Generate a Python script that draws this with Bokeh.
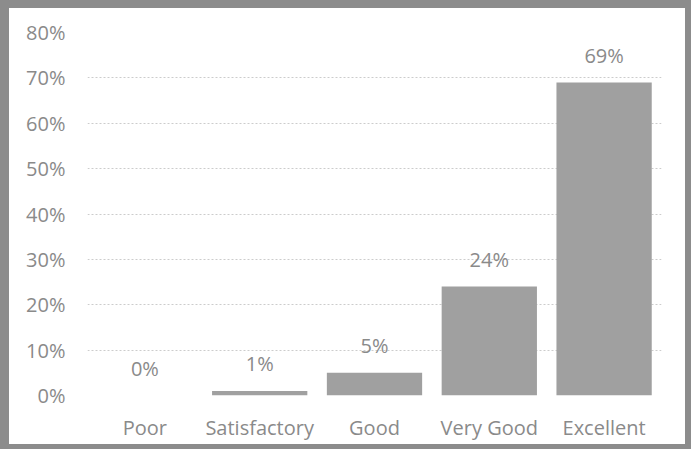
from bokeh.plotting import figure
from bokeh.models import ColumnDataSource, FactorRange, FixedTicker, Range1d
from bokeh.core.properties import value
from bokeh.embed import file_html
from bokeh.resources import INLINE

categories = ["Poor", "Satisfactory", "Good", "Very Good", "Excellent"]
percent = [0, 1, 5, 24, 69]
bar_labels = ["0%", "1%", "5%", "24%", "69%"]
y_ticks = [0, 10, 20, 30, 40, 50, 60, 70, 80]
y_tick_labels = ["0%", "10%", "20%", "30%", "40%", "50%", "60%", "70%", "80%"]

FONT = "Open Sans"
TEXT_COLOR = "#8a8a8a"
BORDER = "#8c8c8c"

source = ColumnDataSource(dict(cat=categories, val=percent, lab=bar_labels))

p = figure(
    width=691, height=449,
    x_range=FactorRange(*categories, range_padding=0),
    y_range=Range1d(0, 80),
    output_backend="svg", toolbar_location=None,
    min_border_left=87, min_border_right=30,
    min_border_top=32, min_border_bottom=54,
)
# scanned-frame look: transparent canvas border over an inset CSS shadow
p.border_fill_color = None
p.background_fill_color = "white"
p.outline_line_color = None
p.styles = {
    "background-color": "white",
    "box-shadow": f"inset 9px 8px 0 0 {BORDER}, inset -6px -5px 0 0 {BORDER}",
}

p.vbar(x="cat", top="val", width=0.83, source=source,
       fill_color="#a0a0a0", line_color=None)

p.text(x="cat", y="val", text="lab", source=source,
       text_align="center", text_baseline="alphabetic", y_offset=-27,
       text_font=value(FONT), text_font_size="20px", text_color=TEXT_COLOR)

p.xgrid.grid_line_color = None
p.ygrid.grid_line_color = "#cccccc"
p.ygrid.grid_line_dash = "2 2"
p.ygrid.grid_line_width = 1
p.ygrid.ticker = FixedTicker(ticks=y_ticks)

p.yaxis.ticker = FixedTicker(ticks=y_ticks)
p.yaxis.major_label_overrides = {t: l for t, l in zip(y_ticks, y_tick_labels)}

for ax in (p.xaxis, p.yaxis):
    ax.axis_line_color = None
    ax.major_tick_line_color = None
    ax.minor_tick_line_color = None
    ax.major_tick_out = 0
    ax.major_tick_in = 0
    ax.major_label_text_font = FONT
    ax.major_label_text_font_size = "20px"
    ax.major_label_text_color = TEXT_COLOR

p.yaxis.major_label_standoff = 22
p.xaxis.major_label_standoff = 18

open("out.html", "w").write(file_html(p, INLINE))
